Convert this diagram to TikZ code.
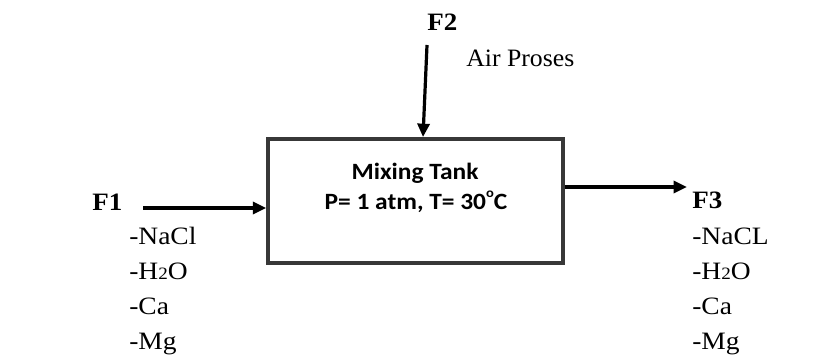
\documentclass[tikz,border=0pt]{standalone}
\usepackage{fontspec}
\usepackage{graphicx}
\setmainfont{Liberation Serif}
\newfontfamily\boxfont{Carlito}
\usetikzlibrary{arrows.meta}
\newcommand{\hs}[2]{\scalebox{#1}[1]{#2}}
\tikzset{
  flow/.style={line width=2.4pt,-{Triangle[length=10pt,width=9pt]}},
  tank/.style={draw=black!78,line width=3pt,minimum width=221pt,minimum height=93pt,inner sep=0pt},
  lbl/.style={anchor=base west,inner sep=0pt,font=\fontsize{18.75}{20}\selectfont},
  flab/.style={anchor=base west,inner sep=0pt,font=\fontsize{18.75}{20}\selectfont\bfseries},
  tanktext/.style={anchor=base,inner sep=0pt,font=\boxfont\bfseries\fontsize{17.5}{20}\selectfont}
}
\newcommand{\smalltwo}{{\fontsize{13}{14}\selectfont 2}}
\newcommand{\dego}{\raisebox{1.05ex}{\fontsize{10}{10}\selectfont o}}
\begin{document}
\begin{tikzpicture}[x=0.75pt,y=-0.75pt]
\useasboundingbox (0,0) rectangle (834,356);
\node[tank] (box) at (415.5,201) {};
\node[tanktext] (t1) at (415,179) {\hs{1.09}{Mixing Tank}};
\node[tanktext] (t2) at (416,209) {\hs{1.09}{P= 1 atm, T= 30\dego C}};
% F1
\node[flab] (f1) at (92,210) {\hs{1.08}{F1}};
\coordinate (f1s) at (143,208);
\draw[flow] (f1s) -- (f1s -| box.west);
\node[lbl] (a1) at (129,244) {\hs{1.1}{-NaCl}};
\node[lbl] (a2) at (129,279) {\hs{1.1}{-H\smalltwo O}};
\node[lbl] (a3) at (129,314) {\hs{1.1}{-Ca}};
\node[lbl] (a4) at (129,349) {\hs{1.1}{-Mg}};
% F2
\node[flab] (f2) at (427,31) {\hs{1.08}{F2}};
\node[lbl] (air) at (466,67) {\hs{1.03}{Air Proses}};
\coordinate (f2s) at (427,45);
\coordinate (f2e) at (423,137);
\draw[flow] (f2s) -- (f2e);
% F3
\coordinate (f3y) at (0,187);
\coordinate (f3e) at (687,187);
\draw[flow] (box.east |- f3y) -- (f3e);
\node[flab] (f3) at (692,208) {\hs{1.08}{F3}};
\node[lbl] (b1) at (692,244) {\hs{1.1}{-NaCL}};
\node[lbl] (b2) at (692,279) {\hs{1.1}{-H\smalltwo O}};
\node[lbl] (b3) at (692,314) {\hs{1.1}{-Ca}};
\node[lbl] (b4) at (692,349) {\hs{1.1}{-Mg}};
\end{tikzpicture}
\end{document}
